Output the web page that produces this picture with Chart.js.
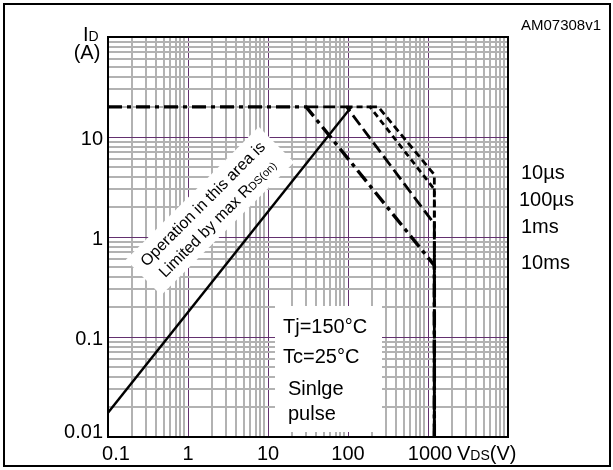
<!DOCTYPE html>
<html>
<head>
<meta charset="utf-8">
<script src="https://cdn.jsdelivr.net/npm/chart.js@4.4.0/dist/chart.umd.min.js"></script>
<style>
  body { margin: 0; background: #fff; }
  canvas { display: block; }
</style>
</head>
<body>
<canvas id="soa" width="613" height="470"></canvas>
<script>
// safe operating area
const xDecades = [0.1, 1, 10, 100, 1000];
const yDecades = [0.01, 0.1, 1, 10];
const xTickLabels = ['0.1', '1', '10', '100', '1000'];
const yTickLabels = ['0.01', '0.1', '1', '10'];

// RDS(on) limit
const rdsV = [0.1, 110];
const rdsI = [0.0175, 20];

// pulse limits (V, A)
const pulseNames = ['10µs', '100µs', '1ms', '10ms'];
const v10us = [188, 239, 1200, 1200];
const i10us = [20, 20, 4.2, 0.01];
const v100us = [96, 188, 1200, 1200];
const i100us = [20, 20, 3.0, 0.01];
const v1ms = [30, 96, 1200, 1200];
const i1ms = [20, 20, 1.35, 0.01];
const v10ms = [0.1, 30, 1200, 1200];
const i10ms = [20, 20, 0.52, 0.01];

const FONT = '"Liberation Sans", Arial, Helvetica, sans-serif';
const PURPLE = '#63306f';
const GRAY = '#b2b2b2';

function font(px) { return px + 'px ' + FONT; }
function pts(xs, ys) { return xs.map((x, i) => ({ x: x, y: ys[i] })); }
function isDecade(v) {
  const l = Math.log10(v);
  return Math.abs(l - Math.round(l)) < 1e-9;
}
function logTicks(decades, top) {
  const t = [];
  decades.forEach(d => {
    for (let k = 1; k <= 9; k++) t.push({ value: d * k });
  });
  t.push({ value: top });
  return t;
}

function gridOpts() {
  return {
    drawTicks: false,
    color: ctx => isDecade(ctx.tick.value) ? PURPLE : GRAY,
    lineWidth: ctx => isDecade(ctx.tick.value) ? 1 : 2
  };
}

// draws text with a smaller "subscript" part on the same baseline
function subText(c, parts, x, y, align) {
  let total = 0;
  parts.forEach(p => { c.font = font(p[1]); total += c.measureText(p[0]).width; });
  let cx = align === 'center' ? x - total / 2 : x;
  c.textAlign = 'left';
  parts.forEach(p => {
    c.font = font(p[1]);
    c.fillText(p[0], cx, y);
    cx += c.measureText(p[0]).width;
  });
}

const decor = {
  id: 'decor',
  beforeDraw(chart) {
    const c = chart.ctx;
    c.save();
    c.fillStyle = '#fff';
    c.fillRect(0, 0, chart.width, chart.height);
    c.restore();
  },
  beforeDatasetsDraw(chart) {
    const c = chart.ctx;
    c.save();
    c.textBaseline = 'alphabetic';

    // test conditions box
    c.fillStyle = '#fff';
    c.fillRect(275, 306, 107, 126);
    c.fillStyle = '#000';
    c.font = font(20);
    c.fillText('Tj=150°C', 283, 333);
    c.fillText('Tc=25°C', 283, 363);
    c.fillText('Sinlge', 288, 395);
    c.fillText('pulse', 288, 420);

    // rotated RDS(on) note
    c.translate(210, 211);
    c.rotate(-Math.PI / 4);
    c.fillStyle = '#fff';
    c.fillRect(-94, -25, 188, 50);
    c.fillStyle = '#000';
    c.textAlign = 'center';
    c.font = font(16);
    c.fillText('Operation in this area is', 0, -5);
    subText(c, [['Limited by max R', 16], ['DS(on)', 11]], 0, 16, 'center');
    c.restore();
  },
  afterDraw(chart) {
    const c = chart.ctx;
    const a = chart.chartArea;
    const xs = chart.scales.x;
    const ys = chart.scales.y;
    c.save();

    // plot frame
    c.strokeStyle = '#000';
    c.lineWidth = 2;
    c.strokeRect(a.left, a.top, a.right - a.left, a.bottom - a.top);

    // outer frame
    c.strokeRect(4, 4, 606, 462);

    c.fillStyle = '#000';
    c.textBaseline = 'alphabetic';

    // x tick labels
    c.font = font(20);
    c.textAlign = 'center';
    xDecades.forEach((v, i) => {
      let px = xs.getPixelForValue(v);
      if (i === 0) px += 8;
      if (i === xDecades.length - 1) px += 2;
      c.fillText(xTickLabels[i], px, 460);
    });
    subText(c, [['V', 20], ['DS', 14], ['(V)', 20]], 457, 460, 'left');

    // y tick labels
    c.font = font(20);
    c.textAlign = 'right';
    yDecades.forEach((v, i) => {
      let py = ys.getPixelForValue(v) + 8;
      if (i === 0) py = ys.getPixelForValue(v) + 1;
      c.fillText(yTickLabels[i], 103, py);
    });

    // y title
    subText(c, [['I', 20], ['D', 14]], 83, 41, 'left');
    c.font = font(20);
    c.textAlign = 'center';
    c.fillText('(A)', 87, 59);

    // pulse labels
    c.textAlign = 'left';
    const lx = [521, 519, 521, 521];
    const ly = [179, 206, 233, 269];
    pulseNames.forEach((n, i) => c.fillText(n, lx[i], ly[i]));

    c.font = font(15);
    c.fillText('AM07308v1', 521, 30);
    c.restore();
  }
};

new Chart(document.getElementById('soa'), {
  type: 'line',
  data: {
    datasets: [
      { label: 'RDS(on)', data: pts(rdsV, rdsI), borderWidth: 2.4, borderDash: [] },
      { label: pulseNames[0], data: pts(v10us, i10us), borderWidth: 2.8, borderDash: [7, 4] },
      { label: pulseNames[1], data: pts(v100us, i100us), borderWidth: 2.8, borderDash: [6, 4] },
      { label: pulseNames[2], data: pts(v1ms, i1ms), borderWidth: 2.8, borderDash: [12, 5] },
      { label: pulseNames[3], data: pts(v10ms, i10ms), borderWidth: 3.4, borderDash: [14, 5, 4, 5] }
    ]
  },
  options: {
    responsive: false,
    animation: false,
    layout: { padding: { left: 108, right: 105, top: 37, bottom: 33 } },
    elements: {
      line: { borderColor: '#000', tension: 0, fill: false, borderCapStyle: 'butt' },
      point: { radius: 0, hoverRadius: 0 }
    },
    scales: {
      x: {
        type: 'logarithmic',
        min: 0.1,
        max: 10000,
        afterBuildTicks: s => { s.ticks = logTicks(xDecades, 10000); },
        ticks: { display: false },
        border: { display: false },
        grid: gridOpts()
      },
      y: {
        type: 'logarithmic',
        min: 0.01,
        max: 100,
        afterBuildTicks: s => { s.ticks = logTicks(yDecades, 100); },
        ticks: { display: false },
        border: { display: false },
        grid: gridOpts()
      }
    },
    plugins: {
      legend: { display: false },
      tooltip: { enabled: false }
    }
  },
  plugins: [decor]
});
</script>
</body>
</html>
